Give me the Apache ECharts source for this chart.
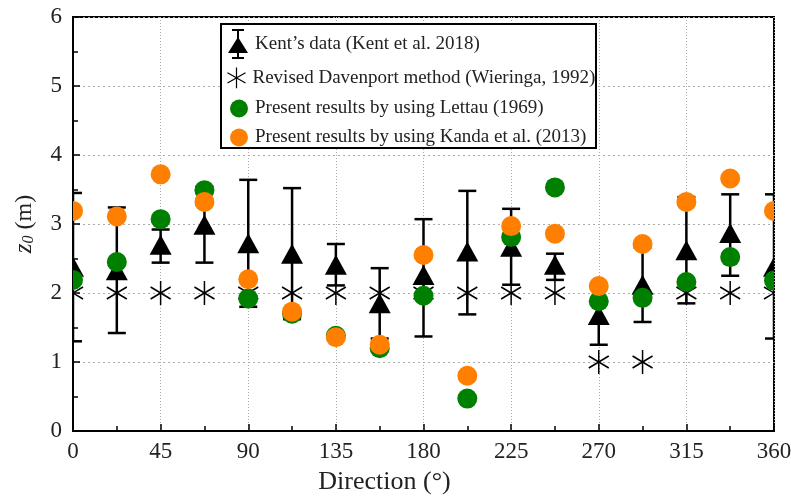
<!DOCTYPE html>
<html>
<head>
<meta charset="utf-8">
<script src="https://cdn.jsdelivr.net/npm/echarts@6/dist/echarts.min.js"></script>
<style>
  html, body { margin: 0; padding: 0; background: #fff; }
  #chart { width: 791px; height: 497px; }
</style>
</head>
<body>
<div id="chart"></div>
<script>
// wind directions (deg)
var dirs = [0, 22.5, 45, 67.5, 90, 112.5, 135, 157.5, 180, 202.5, 225, 247.5, 270, 292.5, 315, 337.5, 360]

// Kent et al. 2018, mean with error range
var kentMean = [2.38, 2.33, 2.70, 2.99, 2.72, 2.57, 2.41, 1.85, 2.26, 2.60, 2.67, 2.41, 1.68, 2.12, 2.62, 2.87, 2.38]
var kentLow  = [1.30, 1.42, 2.44, 2.44, 1.80, 1.62, 2.11, 1.34, 1.37, 1.69, 2.12, 2.19, 1.25, 1.58, 1.85, 2.25, 1.34]
var kentHigh = [3.45, 3.24, 2.92, 3.54, 3.64, 3.52, 2.71, 2.36, 3.07, 3.48, 3.22, 2.57, 2.11, 2.66, 3.39, 3.43, 3.43]

// Revised Davenport (Wieringa 1992)
var davenport = [2, 2, 2, 2, 2, 2, 2, 2, 2, 2, 2, 2, 1, 1, 2, 2, 2]

// present results
var lettau = [2.19, 2.45, 3.07, 3.49, 1.92, 1.70, 1.38, 1.20, 1.96, 0.47, 2.81, 3.53, 1.88, 1.93, 2.16, 2.52, 2.18]
var kanda  = [3.19, 3.11, 3.72, 3.32, 2.20, 1.73, 1.36, 1.25, 2.55, 0.80, 2.97, 2.86, 2.10, 2.71, 3.32, 3.66, 3.19]

var names = [
    "Kent\u2019s data (Kent et al. 2018)",
    "Revised Davenport method (Wieringa, 1992)",
    "Present results by using Lettau (1969)",
    "Present results by using Kanda et al. (2013)"
]

var serif = "Liberation Serif"
var starPath = "path://M0,-10L0,10M-8.66,-5L8.66,5M-8.66,5L8.66,-5"
var kentIcon = "path://M4,0H16V2H4ZM9,0H11V30H9ZM4,28H16V30H4ZM10,8L20,24L0,24Z"

function pairs(ys) {
    return dirs.map(function (d, i) { return [d, ys[i]] })
}

// markers are drawn by custom series so that they get cut at the frame like the original
function renderBar(params, api) {
    var x = api.value(0)
    var lo = api.coord([x, api.value(1)])
    var hi = api.coord([x, api.value(2)])
    var hw = 9
    var st = {stroke: "#000", lineWidth: 2.5}
    return {
        type: "group",
        children: [
            {type: "line", shape: {x1: lo[0], y1: lo[1], x2: hi[0], y2: hi[1]}, style: st},
            {type: "line", shape: {x1: hi[0] - hw, y1: hi[1], x2: hi[0] + hw, y2: hi[1]}, style: st},
            {type: "line", shape: {x1: lo[0] - hw, y1: lo[1], x2: lo[0] + hw, y2: lo[1]}, style: st}
        ]
    }
}

function renderTriangle(params, api) {
    var p = api.coord([api.value(0), api.value(1)])
    return {
        type: "polygon",
        shape: {points: [[p[0], p[1] - 10], [p[0] + 11, p[1] + 10], [p[0] - 11, p[1] + 10]]},
        style: {fill: "#000"}
    }
}

function renderStar(params, api) {
    var p = api.coord([api.value(0), api.value(1)])
    var st = {stroke: "#000", lineWidth: 1.5}
    var dx = 10, dy = 6
    return {
        type: "group",
        children: [
            {type: "line", shape: {x1: p[0], y1: p[1] - 12, x2: p[0], y2: p[1] + 12}, style: st},
            {type: "line", shape: {x1: p[0] - dx, y1: p[1] - dy, x2: p[0] + dx, y2: p[1] + dy}, style: st},
            {type: "line", shape: {x1: p[0] - dx, y1: p[1] + dy, x2: p[0] + dx, y2: p[1] - dy}, style: st}
        ]
    }
}

function circleRenderer(color) {
    return function (params, api) {
        var p = api.coord([api.value(0), api.value(1)])
        return {type: "circle", shape: {cx: p[0], cy: p[1], r: 10}, style: {fill: color}}
    }
}

function legendRow(name, icon, left, top, w, h, style) {
    return {
        data: [{name: name, icon: icon, itemStyle: style}],
        left: left,
        top: top,
        itemWidth: w,
        itemHeight: h,
        selectedMode: false,
        z: 5,
        textStyle: {fontFamily: serif, fontSize: 19, color: "#222", padding: [0, 0, 0, 2]}
    }
}

var chart = echarts.init(document.getElementById("chart"), null, {renderer: "canvas"})

var option = {
    backgroundColor: "#fff",
    animation: false,
    grid: {
        left: 73, right: 17, top: 17, bottom: 66,
        outerBoundsMode: "none",
        show: true, borderColor: "#000", borderWidth: 2
    },
    legend: [
        legendRow(names[0], kentIcon, 223, 24, 20, 30, {color: "#000"}),
        legendRow(names[1], starPath, 220, 60, 18, 22, {color: "none", borderColor: "#000", borderWidth: 1.2}),
        legendRow(names[2], "circle", 225, 94, 18, 18, {color: "#008000"}),
        legendRow(names[3], "circle", 225, 123, 18, 18, {color: "#ff8000"})
    ],
    graphic: [{
        type: "rect",
        z: 3,
        shape: {x: 221, y: 24, width: 375, height: 124},
        style: {fill: "#fff", stroke: "#000", lineWidth: 2}
    }],
    xAxis: {
        type: "value",
        min: 0, max: 360, interval: 45,
        name: "Direction (\u00b0)",
        nameLocation: "middle",
        nameGap: 38,
        nameTextStyle: {fontFamily: serif, fontSize: 26, color: "#222", padding: [0, 78, 0, 0]},
        axisLine: {lineStyle: {color: "#000", width: 2}},
        axisTick: {inside: true, length: 7, lineStyle: {color: "#000", width: 1.5}},
        minorTick: {show: true, splitNumber: 2, length: 5, lineStyle: {color: "#000", width: 1.5}},
        axisLabel: {fontFamily: serif, fontSize: 23, color: "#222", margin: 9},
        splitLine: {show: true, lineStyle: {color: "#aaa", type: [1, 2], width: 1}}
    },
    yAxis: {
        type: "value",
        min: 0, max: 6, interval: 1,
        name: "{z|z}{s|0} (m)",
        nameLocation: "middle",
        nameGap: 36,
        nameTextStyle: {
            fontFamily: serif, fontSize: 24, color: "#222",
            rich: {
                z: {fontFamily: serif, fontSize: 25, fontStyle: "italic", color: "#222"},
                s: {fontFamily: serif, fontSize: 16, fontStyle: "italic", color: "#222", padding: [8, 0, 0, 0]}
            }
        },
        axisLine: {show: true, lineStyle: {color: "#000", width: 2}},
        axisTick: {show: true, inside: true, length: 7, lineStyle: {color: "#000", width: 1.5}},
        minorTick: {show: true, splitNumber: 2, length: 5, lineStyle: {color: "#000", width: 1.5}},
        axisLabel: {fontFamily: serif, fontSize: 23, color: "#222", margin: 11},
        splitLine: {show: true, lineStyle: {color: "#aaa", type: [2, 3], width: 1}}
    },
    series: [
        {
            name: names[0] + " bars",
            type: "custom",
            clip: true,
            renderItem: renderBar,
            encode: {x: 0, y: [1, 2]},
            data: dirs.map(function (d, i) { return [d, kentLow[i], kentHigh[i]] })
        },
        {
            name: names[0],
            type: "custom",
            clip: true,
            renderItem: renderTriangle,
            itemStyle: {color: "#000"},
            encode: {x: 0, y: 1},
            data: pairs(kentMean)
        },
        {
            name: names[1],
            type: "custom",
            clip: true,
            renderItem: renderStar,
            itemStyle: {color: "#000"},
            encode: {x: 0, y: 1},
            data: pairs(davenport)
        },
        {
            name: names[2],
            type: "custom",
            clip: true,
            renderItem: circleRenderer("#008000"),
            itemStyle: {color: "#008000"},
            encode: {x: 0, y: 1},
            data: pairs(lettau)
        },
        {
            name: names[3],
            type: "custom",
            clip: true,
            renderItem: circleRenderer("#ff8000"),
            itemStyle: {color: "#ff8000"},
            encode: {x: 0, y: 1},
            data: pairs(kanda)
        }
    ]
}

chart.setOption(option)
</script>
</body>
</html>
